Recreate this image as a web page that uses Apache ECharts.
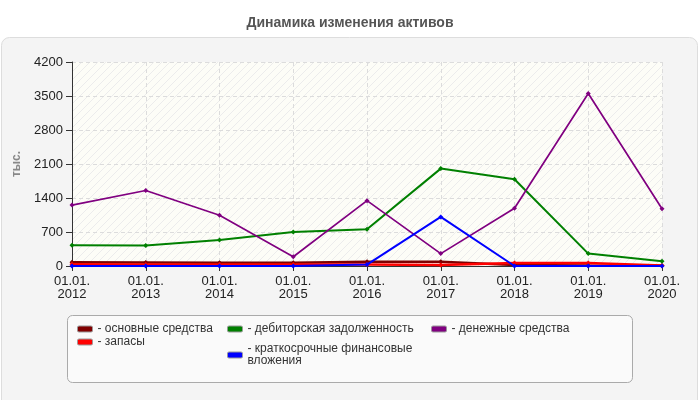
<!DOCTYPE html>
<html>
<head>
<meta charset="utf-8">
<script src="https://cdn.jsdelivr.net/npm/echarts@6/dist/echarts.min.js"></script>
<style>
  html, body { margin: 0; padding: 0; background: #fff; }
  #chart { width: 700px; height: 400px; }
</style>
</head>
<body>
<div id="chart"></div>
<script>
// данные
const years = ["01.01.\n2012", "01.01.\n2013", "01.01.\n2014", "01.01.\n2015", "01.01.\n2016",
  "01.01.\n2017", "01.01.\n2018", "01.01.\n2019", "01.01.\n2020"];
const fixedAssets = [75, 70, 65, 65, 90, 90, 20, 10, 5];
const stocks = [35, 30, 30, 30, 30, 20, 60, 60, 10];
const receivables = [425, 420, 535, 700, 755, 2005, 1785, 255, 100];
const shortInvest = [0, 0, 0, 0, 30, 1010, 0, 0, 0];
const cash = [1255, 1555, 1045, 190, 1345, 255, 1190, 3550, 1180];
const yTicks = { min: 0, max: 4200, interval: 700 };

const names = ["основные средства", "запасы", "дебиторская задолженность",
  "краткосрочные финансовые вложения", "денежные средства"];
const colors = ["#800000", "#ff0000", "#008000", "#0000ff", "#800080"];
const values = [fixedAssets, stocks, receivables, shortInvest, cash];

const font = "Liberation Sans, Arial, sans-serif";

// штриховка фона области графика
const hatch = document.createElement("canvas");
hatch.width = 8;
hatch.height = 8;
const hc = hatch.getContext("2d");
hc.fillStyle = "#fdfdf7";
hc.fillRect(0, 0, 8, 8);
hc.strokeStyle = "#ececec";
hc.lineWidth = 1;
hc.beginPath();
hc.moveTo(0, 8); hc.lineTo(8, 0);
hc.moveTo(-1, 1); hc.lineTo(1, -1);
hc.moveTo(7, 9); hc.lineTo(9, 7);
hc.stroke();

const chart = echarts.init(document.getElementById("chart"));

const legendBase = {
  orient: "vertical",
  padding: 0,
  itemWidth: 15,
  itemHeight: 6,
  itemGap: 4,
  icon: "roundRect",
  selectedMode: false,
  textStyle: { fontFamily: font, fontSize: 12, color: "#333", lineHeight: 12 },
  itemStyle: { borderColor: "#999", borderWidth: 1 },
  formatter: (n) => n === names[3] ? "- краткосрочные финансовые\nвложения" : "- " + n
};

chart.setOption({
  backgroundColor: "#fff",
  animation: false,
  title: {
    text: "Динамика изменения активов",
    left: "center",
    top: 11,
    textStyle: { fontFamily: font, fontSize: 14, fontWeight: "bold", color: "#555" }
  },
  graphic: [
    {
      type: "rect",
      z: -10,
      shape: { x: 1.5, y: 37.5, width: 696, height: 380, r: 8 },
      style: { fill: "#f4f4f4", stroke: "#dddddd", lineWidth: 1 }
    },
    {
      type: "rect",
      z: -5,
      shape: { x: 67.5, y: 315.5, width: 565, height: 67, r: 5 },
      style: { fill: "#fafafa", stroke: "#aaaaaa", lineWidth: 1 }
    }
  ],
  legend: [
    Object.assign({}, legendBase, { data: [names[0], names[1]], left: 77, top: 323, itemGap: 1 }),
    Object.assign({}, legendBase, { data: [names[2], names[3]], left: 227, top: 323, itemGap: 8 }),
    Object.assign({}, legendBase, { data: [names[4]], left: 431, top: 323 })
  ],
  grid: {
    left: 72, right: 38, top: 62, bottom: 134,
    show: true,
    backgroundColor: { image: hatch, repeat: "repeat" },
    borderWidth: 0
  },
  xAxis: {
    type: "category",
    data: years,
    boundaryGap: false,
    axisLine: { show: true, onZero: false, lineStyle: { color: "#333", width: 1 } },
    axisTick: { show: true, alignWithLabel: true, length: 5, lineStyle: { color: "#333" } },
    axisLabel: { color: "#222", fontFamily: font, fontSize: 13, lineHeight: 13, margin: 9 },
    splitLine: { show: true, lineStyle: { color: "#dcdcdc", type: [4, 3] } }
  },
  yAxis: {
    type: "value",
    min: yTicks.min,
    max: yTicks.max,
    interval: yTicks.interval,
    name: "тыс.",
    nameLocation: "middle",
    nameGap: 45,
    nameRotate: 90,
    nameTextStyle: { color: "#888", fontFamily: font, fontSize: 12, fontWeight: "bold" },
    axisLine: { show: true, lineStyle: { color: "#333", width: 1 } },
    axisTick: { show: true, length: 6, lineStyle: { color: "#333" } },
    axisLabel: { color: "#222", fontFamily: font, fontSize: 13, margin: 9, formatter: (v) => String(v) },
    splitLine: { show: true, lineStyle: { color: "#dcdcdc", type: [4, 3] } }
  },
  series: names.map((n, i) => ({
    name: n,
    type: "line",
    data: values[i],
    color: colors[i],
    symbol: "diamond",
    symbolSize: 5,
    lineStyle: { width: i < 2 ? 2.5 : (i === 4 ? 1.7 : 2), color: colors[i] },
    itemStyle: { color: colors[i] },
    z: i === 3 ? 5 : 3
  }))
});
</script>
</body>
</html>
